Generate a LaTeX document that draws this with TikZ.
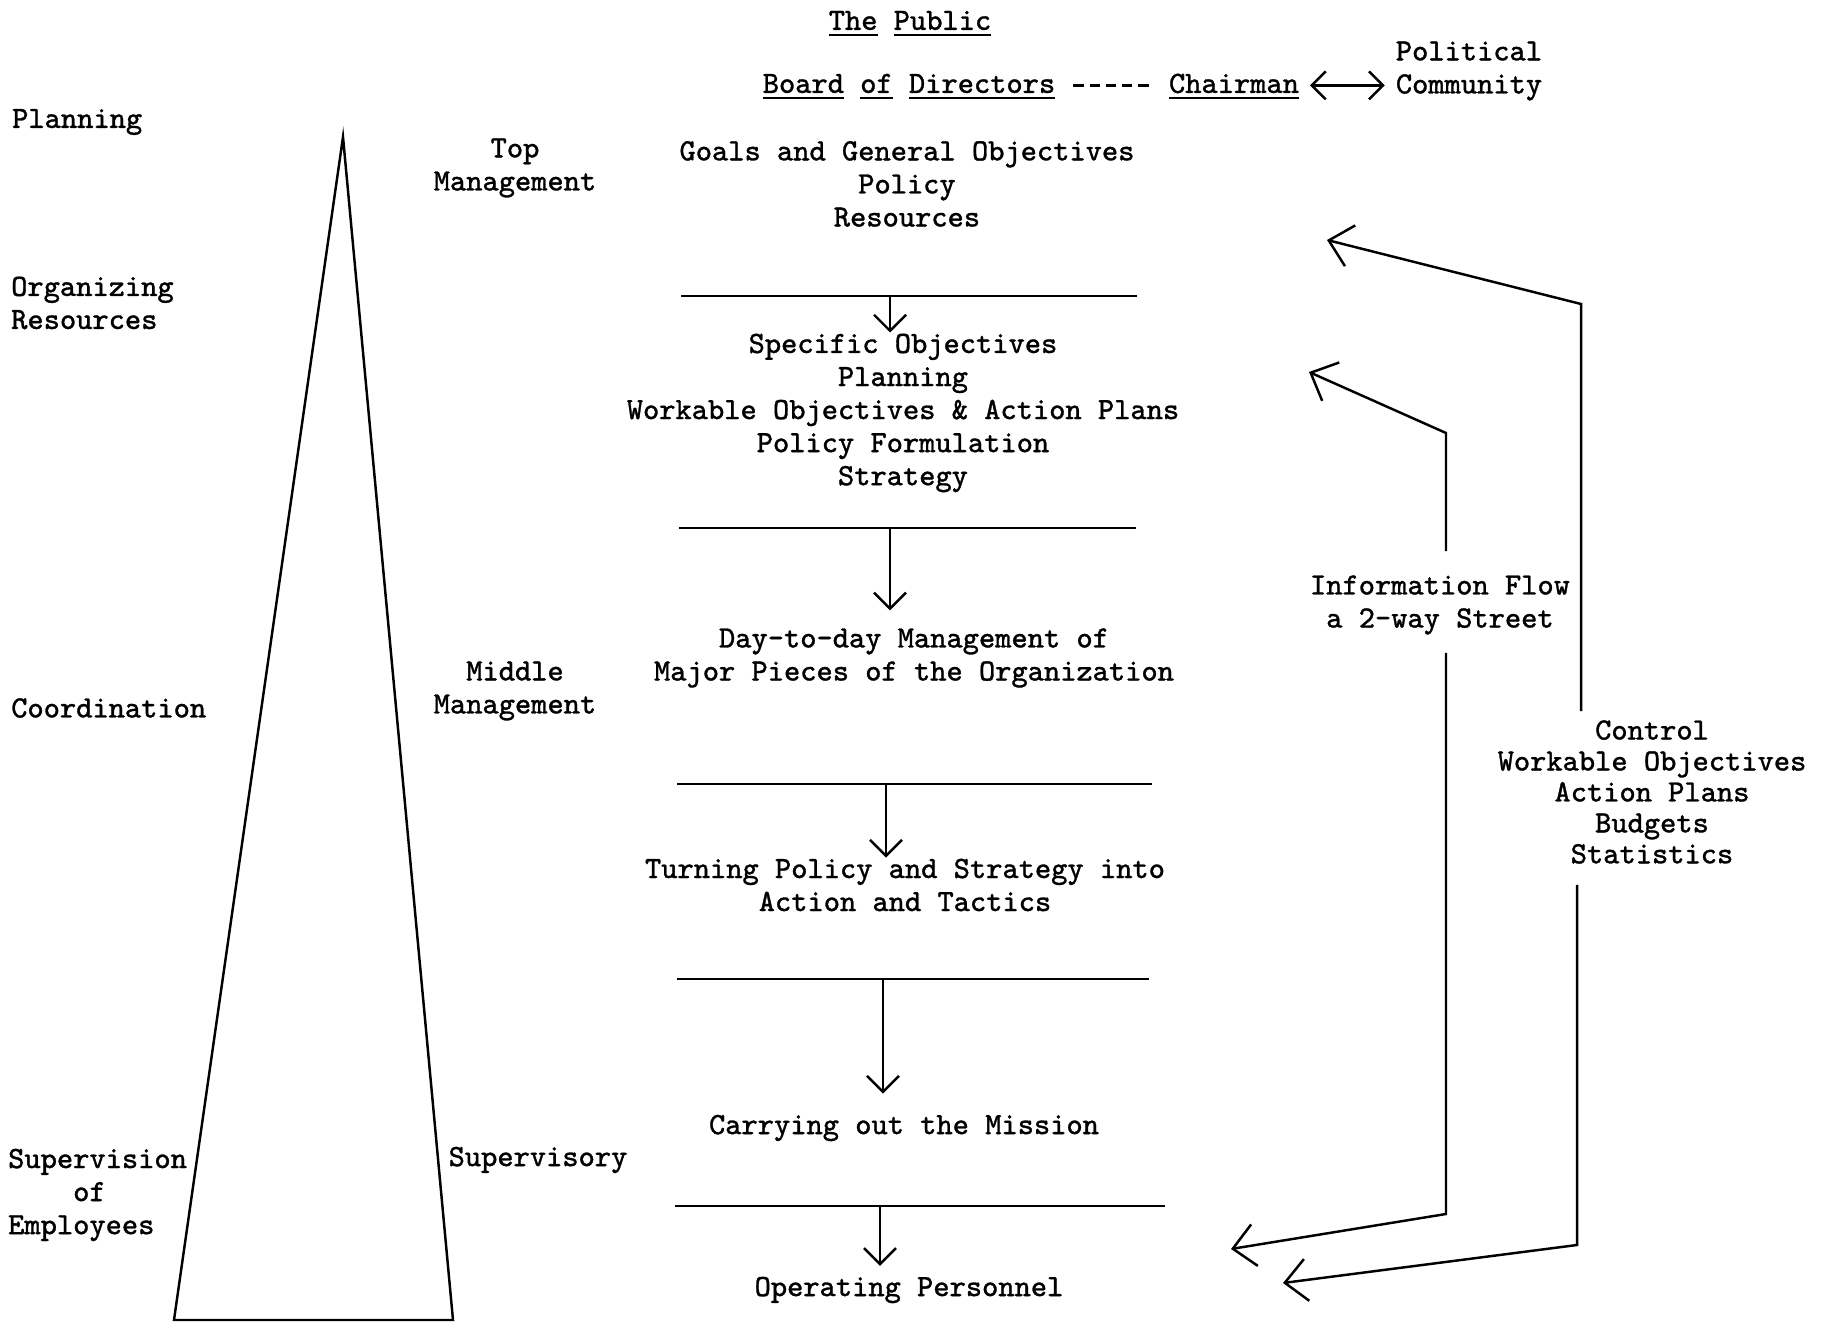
\documentclass[tikz,border=0pt]{standalone}
\usepackage{fontspec}
\setmainfont{Latin Modern Mono}[FakeBold=1]
\usepackage{tikz}
\usetikzlibrary{arrows.meta,positioning}

\begin{document}
\begin{tikzpicture}[
		x=0.01cm, y=-0.01cm,
		font=\fontsize{8.8}{9.4}\selectfont,
		line width=0.7pt,
		>={Straight Barb[length=1.6mm,width=3.2mm]},
		blocktext/.style={align=center, inner sep=0pt},
		sidetext/.style={align=left, inner sep=0pt, anchor=west},
		flow/.style={->},
		backflow/.style={-{Straight Barb[length=2.2mm,width=4.2mm]}},
		dashlink/.style={dash pattern=on 3pt off 1.6pt, shorten <=4.8pt, shorten >=4.8pt}
		]
		\useasboundingbox (0,0) rectangle (1821,1325);

		% header
		\node[blocktext] (public) at (910,24) {\underline{The} \underline{Public}};
		\node[blocktext] (board) at (909,87) {\underline{Board} \underline{of} \underline{Directors}};
		\node[blocktext] (chair) at (1234,87) {\underline{Chairman}};
		\node[blocktext] (pol) at (1469,71) {Political\\Community};
		\draw[dashlink] (board.mid east) -- (chair.mid west);
		\draw[<->, >={Straight Barb[length=1.4mm,width=2.8mm]}, shorten <=2.8pt, shorten >=2.8pt] (chair.mid east) -- (chair.mid east -| pol.west);

		% pyramid and levels
		\coordinate (apex) at (343,137);
		\coordinate (baseL) at (174,1320);
		\coordinate (baseR) at (453,1320);
		\draw (apex) -- (baseL) -- (baseR) -- cycle;

		\node[sidetext] (plan) at (11,122) {Planning};
		\node[sidetext] (org) at (10,303) {Organizing\\Resources};
		\node[sidetext] (coord) at (10,708) {Coordination};
		\node[sidetext] (superv) at (7,1195) {Supervision\\\phantom{Supe}of\\Employees};

		\node[blocktext] (topm) at (515,168) {Top\\Management};
		\node[blocktext] (midm) at (515,691) {Middle\\Management};
		\node[blocktext] (supm) at (538,1160) {Supervisory};

		% central column
		\node[blocktext] (goals) at (907,184) {Goals and General Objectives\\Policy\\Resources};
		\node[blocktext] (spec) at (903,413) {Specific Objectives\\Planning\\Workable Objectives \& Action Plans\\Policy Formulation\\Strategy};
		\node[blocktext] (daily) at (914,658) {Day-to-day Management of\\Major Pieces of the Organization};
		\node[blocktext] (turn) at (905,885) {Turning Policy and Strategy into\\Action and Tactics};
		\node[blocktext] (mission) at (904,1128) {Carrying out the Mission};
		\node[blocktext] (oper) at (909,1290) {Operating Personnel};

		\draw (681,296) -- (1137,296);
		\draw (679,528) -- (1136,528);
		\draw (677,784) -- (1152,784);
		\draw (677,979) -- (1149,979);
		\draw (675,1206) -- (1165,1206);
		\coordinate (sep1) at (890,296);
		\coordinate (sep2) at (890,528);
		\coordinate (sep3) at (886,784);
		\coordinate (sep4) at (883,979);
		\coordinate (sep5) at (880,1206);

		\draw[flow] (sep1) -- (sep1 |- spec.north);
		\draw[flow, shorten >=4.8pt] (sep2) -- (sep2 |- daily.north);
		\draw[flow] (sep3) -- (sep3 |- turn.north);
		\draw[flow, shorten >=5.7pt] (sep4) -- (sep4 |- mission.north);
		\draw[flow, shorten >=2.8pt] (sep5) -- (sep5 |- oper.north);

		% information flow and control
		\node[blocktext] (info) at (1440,605) {Information Flow\\a 2-way Street};
		\node[blocktext, font=\fontsize{8.8}{8.8}\selectfont] (ctrl) at (1652,792) {Control\\Workable Objectives\\Action Plans\\Budgets\\Statistics};

		\coordinate (iup) at (1446,433);
		\coordinate (itop) at (1309,372);
		\coordinate (idown) at (1446,1214);
		\coordinate (ibot) at (1231,1249);
		\draw[backflow, shorten <=0.23cm] (iup |- info.north) -- (iup) -- (itop);
		\draw[backflow, shorten <=0.17cm] (iup |- info.south) -- (idown) -- (ibot);

		\coordinate (cup) at (1581,304);
		\coordinate (ctop) at (1327,240);
		\coordinate (cdown) at (1577,1245);
		\coordinate (cbot) at (1283,1283);
		\draw[backflow, shorten <=0.08cm] (cup |- ctrl.north) -- (cup) -- (ctop);
		\draw[backflow, shorten <=0.2cm] (cdown |- ctrl.south) -- (cdown) -- (cbot);
	\end{tikzpicture}
\end{document}
